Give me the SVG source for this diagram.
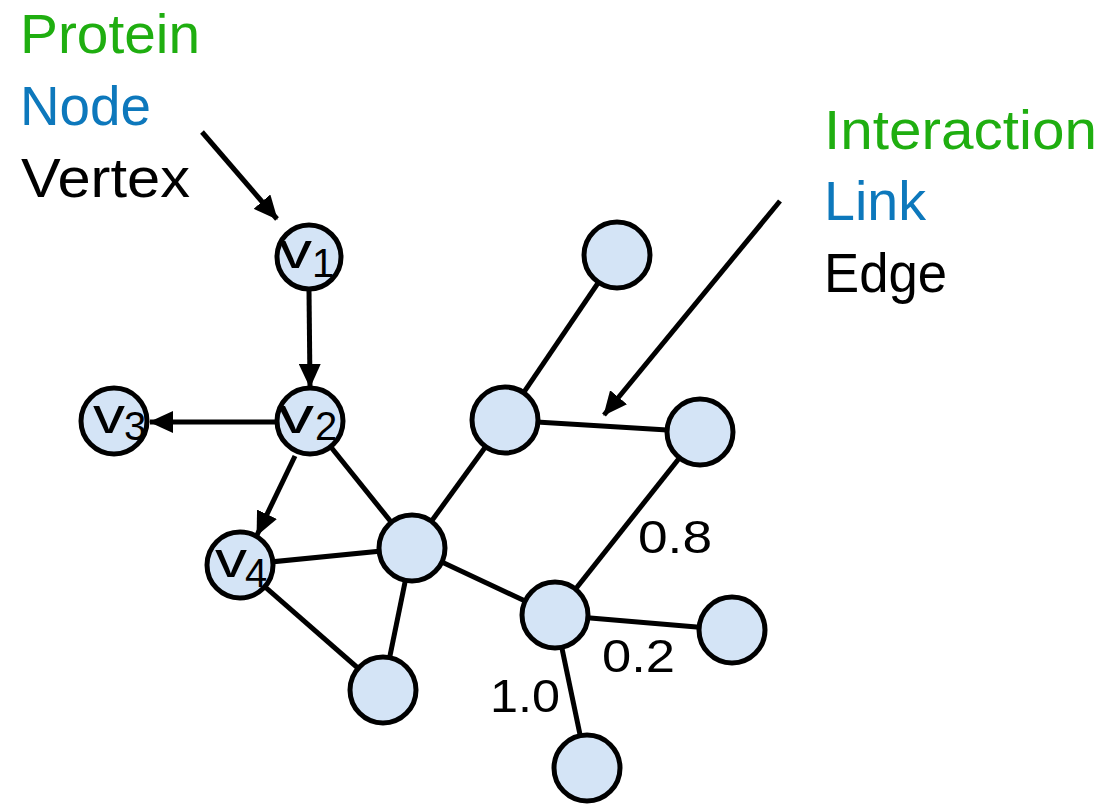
<svg xmlns="http://www.w3.org/2000/svg" width="1107" height="806" viewBox="0 0 1107 806">
<defs>
<marker id="ah" viewBox="0 0 24 22" refX="23" refY="11" markerWidth="24" markerHeight="22" markerUnits="userSpaceOnUse" orient="auto">
<path d="M0,0 L24,11 L0,22 Z" fill="#000"/>
</marker>
<style>
.lbl{font-family:"Liberation Sans",Arial,sans-serif;font-size:55px}
.g{fill:#1fae10}.b{fill:#0d78bc}.k{fill:#000}
.edge{stroke:#000;stroke-width:5;fill:none}
.arr{stroke:#000;stroke-width:5;fill:none;marker-end:url(#ah)}
.node{fill:#d4e4f6;stroke:#000;stroke-width:5}
.v{font-family:"Liberation Sans",Arial,sans-serif;font-size:50px;fill:#000}
.s{font-family:"Liberation Sans",Arial,sans-serif;font-size:40px;fill:#000}
.w{font-family:"Liberation Sans",Arial,sans-serif;font-size:46px;fill:#000}
</style>
</defs>
<rect width="1107" height="806" fill="#fff"/>
<g id="labels">
<text class="lbl g" x="20" y="53" textLength="180" lengthAdjust="spacingAndGlyphs">Protein</text>
<text class="lbl b" x="20" y="125" textLength="131" lengthAdjust="spacingAndGlyphs">Node</text>
<text class="lbl k" x="21" y="197" textLength="169" lengthAdjust="spacingAndGlyphs">Vertex</text>
<text class="lbl g" x="824" y="149" textLength="273" lengthAdjust="spacingAndGlyphs">Interaction</text>
<text class="lbl b" x="824" y="220" textLength="102" lengthAdjust="spacingAndGlyphs">Link</text>
<text class="lbl k" x="824" y="292" textLength="123" lengthAdjust="spacingAndGlyphs">Edge</text>
</g>
<g id="connectors">
<line class="edge" x1="310" y1="421" x2="412" y2="548"/>
<line class="edge" x1="240" y1="565" x2="412" y2="548"/>
<line class="edge" x1="240" y1="565" x2="383" y2="690"/>
<line class="edge" x1="412" y1="548" x2="383" y2="690"/>
<line class="edge" x1="412" y1="548" x2="505" y2="420"/>
<line class="edge" x1="505" y1="420" x2="617" y2="255"/>
<line class="edge" x1="505" y1="420" x2="700" y2="432"/>
<line class="edge" x1="700" y1="432" x2="555" y2="615"/>
<line class="edge" x1="412" y1="548" x2="555" y2="615"/>
<line class="edge" x1="555" y1="615" x2="732" y2="630"/>
<line class="edge" x1="555" y1="615" x2="587" y2="768"/>
<line class="arr" x1="202" y1="132" x2="277" y2="219"/>
<line class="arr" x1="309" y1="290" x2="310" y2="387"/>
<line class="arr" x1="277" y1="422" x2="150" y2="422"/>
<line class="arr" x1="295" y1="456" x2="257" y2="535"/>
<line class="arr" x1="780" y1="201" x2="604" y2="415"/>
</g>
<g id="edge-labels">
<text class="w" x="638" y="553" textLength="74" lengthAdjust="spacingAndGlyphs">0.8</text>
<text class="w" x="602" y="672" textLength="73" lengthAdjust="spacingAndGlyphs">0.2</text>
<text class="w" x="490" y="712" textLength="70" lengthAdjust="spacingAndGlyphs">1.0</text>
</g>
<g id="v1"><circle class="node" cx="309" cy="257" r="32"/><text class="v" x="279" y="268" textLength="33" lengthAdjust="spacingAndGlyphs">v</text><text class="s" x="312" y="277">1</text></g>
<g id="v2"><circle class="node" cx="310" cy="421" r="33"/><text class="v" x="278" y="433" textLength="36" lengthAdjust="spacingAndGlyphs">v</text><text class="s" x="315" y="440">2</text></g>
<g id="v3"><circle class="node" cx="114" cy="421" r="33"/><text class="v" x="93" y="433" textLength="32" lengthAdjust="spacingAndGlyphs">v</text><text class="s" x="124" y="440">3</text></g>
<g id="v4"><circle class="node" cx="240" cy="565" r="33"/><text class="v" x="215" y="577" textLength="32" lengthAdjust="spacingAndGlyphs">v</text><text class="s" x="245" y="587">4</text></g>
<g id="nC"><circle class="node" cx="412" cy="548" r="33"/></g>
<g id="nA"><circle class="node" cx="505" cy="420" r="33"/></g>
<g id="nT"><circle class="node" cx="617" cy="255" r="33"/></g>
<g id="nR"><circle class="node" cx="700" cy="432" r="33"/></g>
<g id="nH"><circle class="node" cx="555" cy="615" r="33"/></g>
<g id="nR2"><circle class="node" cx="732" cy="630" r="33"/></g>
<g id="nB"><circle class="node" cx="587" cy="768" r="33"/></g>
<g id="nBL"><circle class="node" cx="383" cy="690" r="33"/></g>
</svg>
